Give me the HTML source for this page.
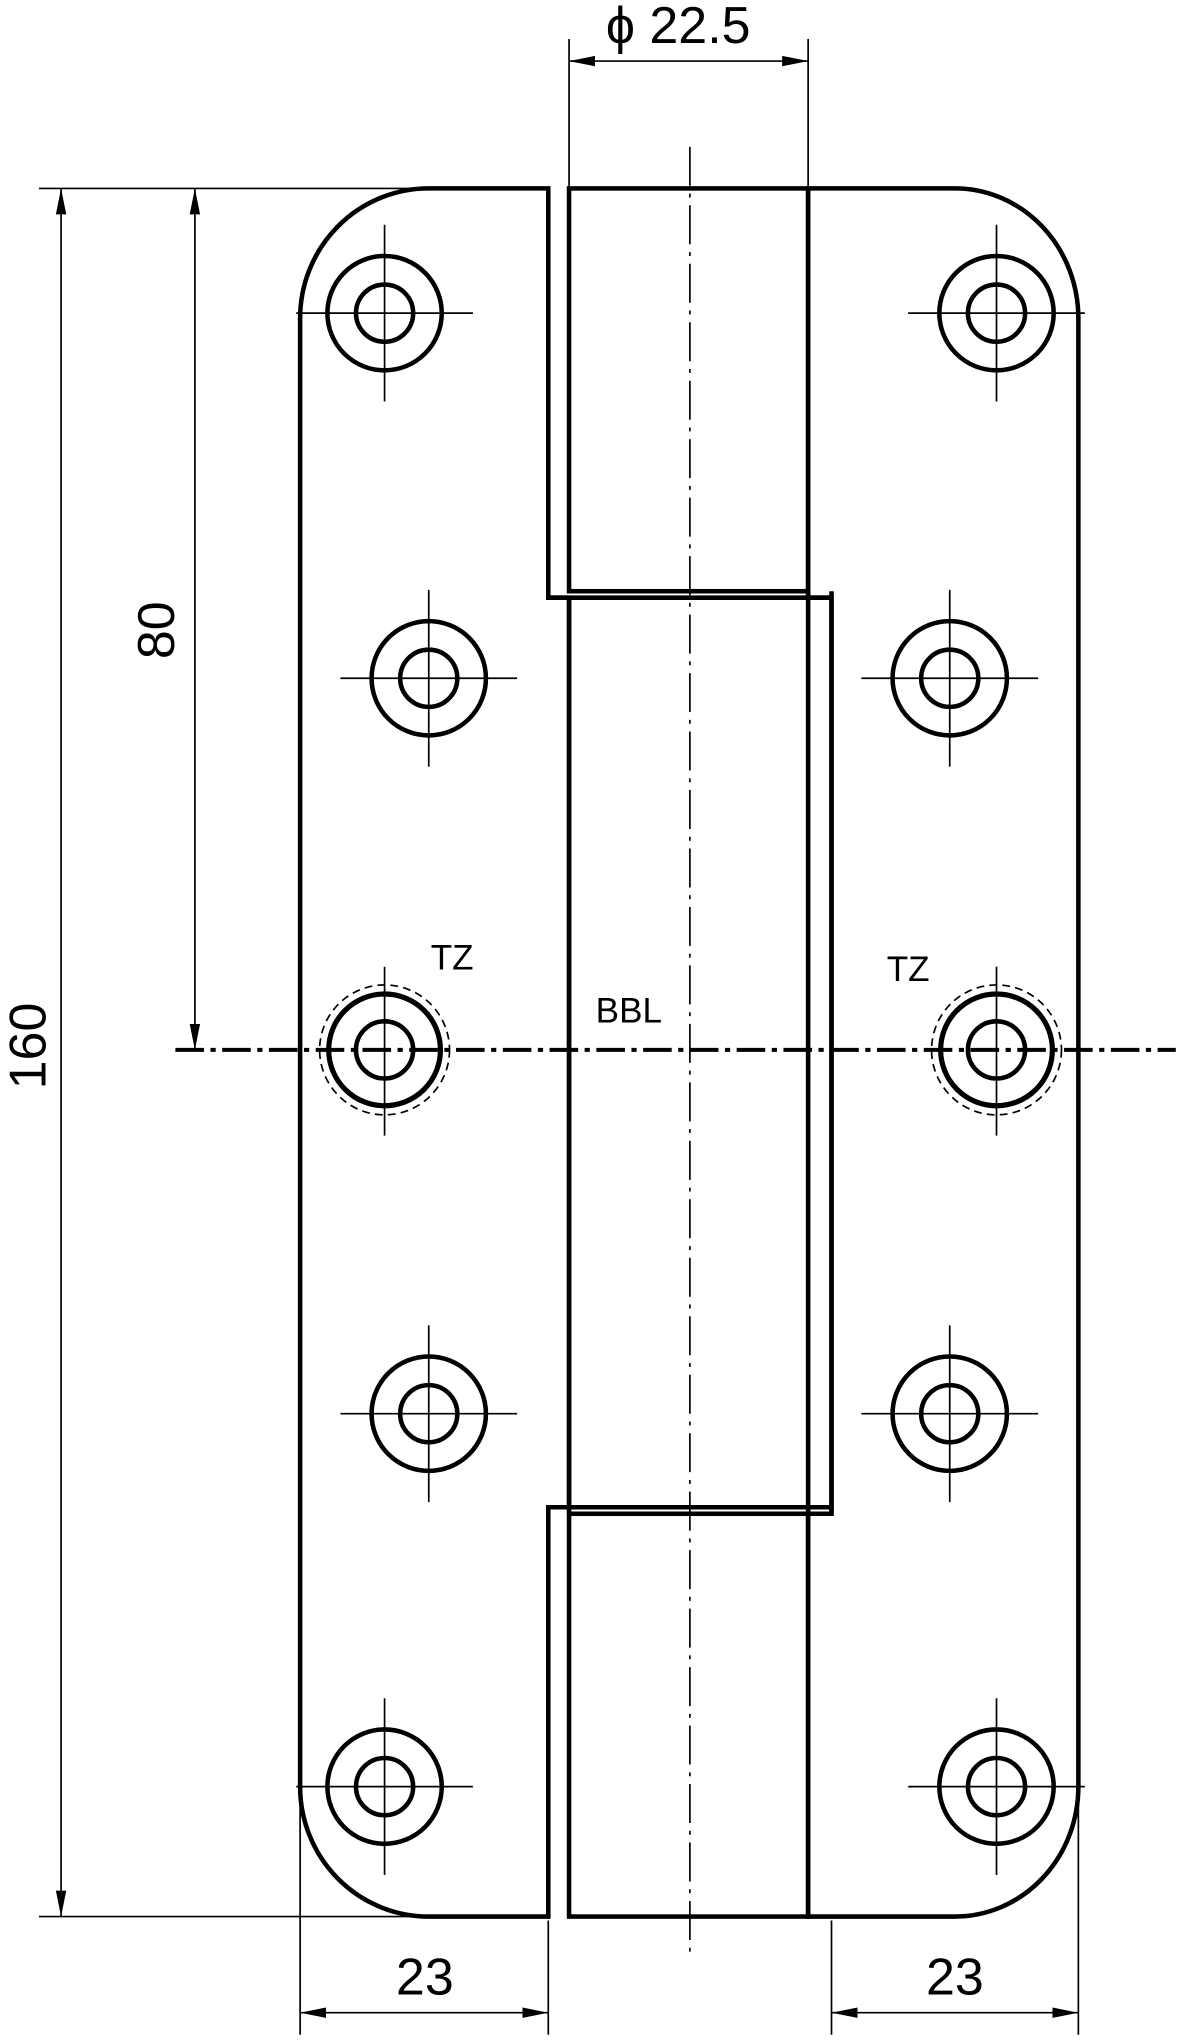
<!DOCTYPE html>
<html><head><meta charset="utf-8">
<style>
html,body{margin:0;padding:0;background:#fff;}
svg{display:block;}
text{font-family:"Liberation Sans",sans-serif;fill:#000;}
</style></head><body>
<svg width="1181" height="2040" viewBox="0 0 909 1570" preserveAspectRatio="none" xmlns="http://www.w3.org/2000/svg">
<defs>
<marker id="a" viewBox="0 0 20 8" refX="20" refY="4" markerWidth="20" markerHeight="8" markerUnits="userSpaceOnUse" orient="auto-start-reverse"><path d="M0,0 L20,4 L0,8 z" fill="#000"/></marker>
<g id="h">
<circle r="44" fill="none" stroke="#000" stroke-width="3.5"/>
<circle r="22" fill="none" stroke="#000" stroke-width="3.5"/>
<line x1="-68" y1="0" x2="68" y2="0" stroke="#000" stroke-width="1.3"/>
<line x1="0" y1="-68" x2="0" y2="68" stroke="#000" stroke-width="1.3"/>
</g>
<g id="t">
<circle r="50" fill="none" stroke="#000" stroke-width="1.3" stroke-dasharray="6,4"/>
<circle r="43" fill="none" stroke="#000" stroke-width="4"/>
<circle r="22" fill="none" stroke="#000" stroke-width="3.5"/>
<line x1="0" y1="-64" x2="0" y2="66" stroke="#000" stroke-width="1.3"/>
</g>
</defs>
<g fill="none" stroke="#000" stroke-width="3.5">
<path d="M422,145 H330 A99,100 0 0 0 231,245 V1375 A99,100 0 0 0 330,1475 H422 V1160 H438 V460 H422 Z"/>
<path d="M622,145 H735 A95,100 0 0 1 830,245 V1375 A95,100 0 0 1 735,1475 H622 V1165 H640 V460 H622 Z"/>
<rect x="438" y="145" width="184" height="310"/>
<rect x="438" y="1165" width="184" height="310"/>
<line x1="422" y1="460" x2="640" y2="460"/>
<line x1="422" y1="1160" x2="640" y2="1160"/>
<line x1="438" y1="460" x2="438" y2="1165"/>
<line x1="622" y1="455" x2="622" y2="1165"/>
<line x1="640" y1="455" x2="640" y2="1165"/>
</g>
<line x1="531" y1="113" x2="531" y2="1505" stroke="#000" stroke-width="1.3" stroke-dasharray="30,6,3,6"/>
<line x1="135" y1="808" x2="905" y2="808" stroke="#000" stroke-width="3" stroke-dasharray="22,5,4,5"/>
<use href="#h" x="296" y="241"/><use href="#h" x="296" y="1375"/>
<use href="#h" x="330" y="522"/><use href="#h" x="330" y="1088"/>
<use href="#h" x="767" y="241"/><use href="#h" x="767" y="1375"/>
<use href="#h" x="731" y="522"/><use href="#h" x="731" y="1088"/>
<use href="#t" x="296" y="808"/><use href="#t" x="767" y="808"/>
<g stroke="#000" stroke-width="1.3" fill="none">
<line x1="30" y1="145" x2="330" y2="145"/>
<line x1="30" y1="1475" x2="330" y2="1475"/>
<line x1="47" y1="145" x2="47" y2="1475" marker-start="url(#a)" marker-end="url(#a)"/>
<line x1="150" y1="145" x2="150" y2="808" marker-start="url(#a)" marker-end="url(#a)"/>
<line x1="438" y1="30" x2="438" y2="145"/>
<line x1="622" y1="30" x2="622" y2="145"/>
<line x1="438" y1="47" x2="622" y2="47" marker-start="url(#a)" marker-end="url(#a)"/>
<line x1="231" y1="1380" x2="231" y2="1566"/>
<line x1="422" y1="1478" x2="422" y2="1566"/>
<line x1="640" y1="1478" x2="640" y2="1566"/>
<line x1="830" y1="1380" x2="830" y2="1566"/>
<line x1="231" y1="1549" x2="422" y2="1549" marker-start="url(#a)" marker-end="url(#a)"/>
<line x1="640" y1="1549" x2="830" y2="1549" marker-start="url(#a)" marker-end="url(#a)"/>
</g>
<text x="35" y="805" font-size="40" text-anchor="middle" transform="rotate(-90 35 805)">160</text>
<text x="134" y="485" font-size="40" text-anchor="middle" transform="rotate(-90 134 485)">80</text>
<text x="522" y="33" font-size="40" text-anchor="middle">ϕ 22.5</text>
<text x="327" y="1535" font-size="40" text-anchor="middle">23</text>
<text x="735" y="1535" font-size="40" text-anchor="middle">23</text>
<text x="348" y="746" font-size="27" text-anchor="middle">TZ</text>
<text x="699" y="755" font-size="27" text-anchor="middle">TZ</text>
<text x="484" y="787" font-size="27" text-anchor="middle">BBL</text>
</svg>
</body></html>
